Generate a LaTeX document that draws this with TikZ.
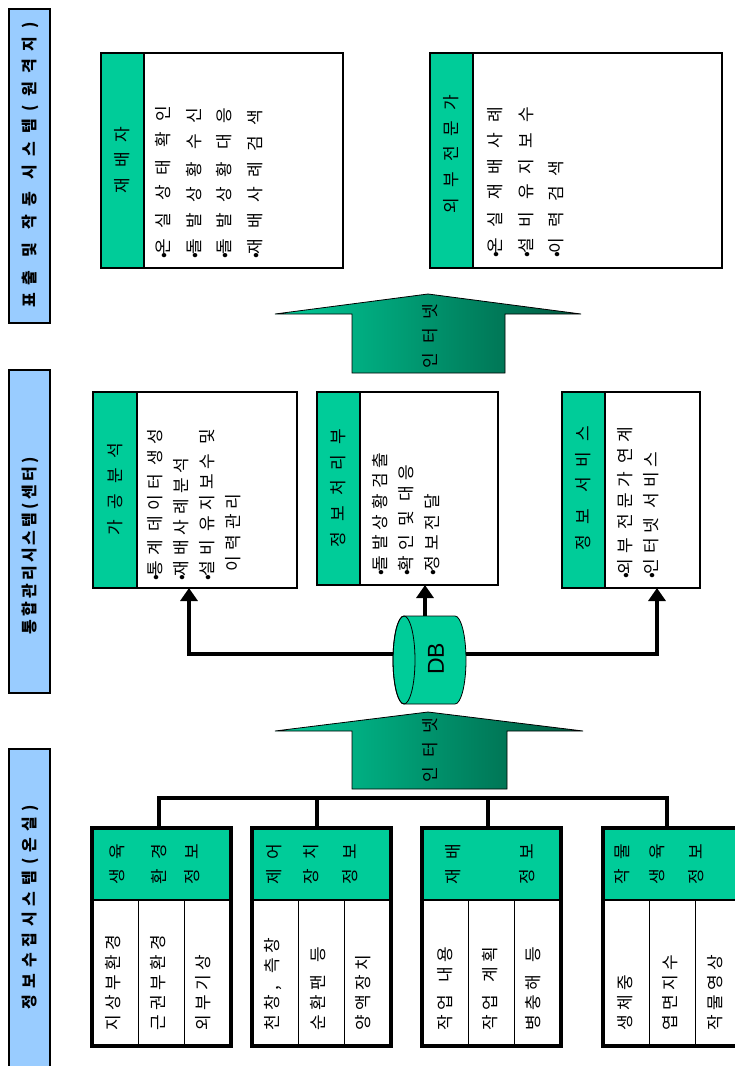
\documentclass[tikz,border=0pt]{standalone}
\usepackage{fontspec}
\setmainfont{Noto Sans CJK KR}
\newfontfamily\dbfont{Liberation Sans}
\usetikzlibrary{arrows.meta}

\definecolor{hdrgreen}{HTML}{00CC99}
\definecolor{barblue}{HTML}{99CCFF}
\definecolor{deepgreen}{HTML}{005A40}

% size, baselineskip, letter spacing (percent), word space
\newcommand\kfont[4]{\fontsize{#1}{#2}\selectfont\addfontfeatures{LetterSpace=#3}\spaceskip=#4\relax}
\newcommand\bul{•\kern-2pt\relax}

\tikzset{
  every node/.style={inner sep=0pt, outer sep=0pt},
  vtext/.style={rotate=90},
  bar/.style={draw=black, line width=1.3pt, fill=barblue, anchor=north west, minimum width=41pt},
  hdr/.style={vtext, font=\kfont{17}{18}{59}{16pt}},
  itemA/.style={vtext, anchor=north west, align=left, font=\kfont{17}{30.5}{59}{12pt}},
  itemC/.style={vtext, anchor=north west, align=left, font=\kfont{17}{26}{29}{9pt}},
  body/.style={vtext, anchor=west, font=\kfont{17}{18}{25}{12pt}},
  bhdr/.style={vtext, font=\kfont{17}{18}{53}{10pt}},
  nettext/.style={vtext, font=\kfont{17}{18}{53}{10pt}},
  wire/.style={line width=4pt},
  conn/.style={line width=4pt, -{Triangle[length=13pt,width=17pt]}},
  bigarrow/.style={draw=black, line width=0.8pt, left color=hdrgreen, right color=deepgreen},
}

\begin{document}
\begin{tikzpicture}[x=1pt,y=-1pt]
\useasboundingbox (0,0) rectangle (735,1066);
\clip (0,0) rectangle (735,1066);
\fill[white] (0,0) rectangle (735,1066);

% ---- layer labels ----
\node[bar, minimum height=314pt] (bar1) at (9,9) {};
\node[bar, minimum height=323pt] (bar2) at (9,370) {};
\node[bar, minimum height=320pt] (bar3) at (9,749) {};
\node[vtext, font={\bfseries\kfont{16}{18}{50}{13pt}}] (lab1) at (30,165) {표출 및 작동 시스템(원격지)};
\node[vtext, font={\bfseries\kfont{16}{18}{20}{8pt}}] (lab2) at (30,546) {통합관리시스템(센터)};
\node[vtext, font={\bfseries\kfont{16}{18}{37}{10pt}}] (lab3) at (30,907) {정보수집시스템(온실)};

% ---- panels with a green title strip ----
\foreach \x/\y/\w/\h/\hw in {101/53/242/215/43, 430/53/292/215/43, 93/392/204/196/44, 317/392/181/193/43, 562/392/138/196/43}{
  \fill[white] (\x,\y) rectangle ++(\w,\h);
  \fill[hdrgreen] (\x,\y) rectangle ++(\hw,\h);
  \draw[line width=2pt] (\x+\hw,\y) -- ++(0,\h);
  \draw[line width=1.3pt] (\x,\y) rectangle ++(\w,\h);
}

\node[hdr] (hA) at (122.5,160) {재배자};
\node[hdr] (hB) at (451.5,154) {외부전문가};
\node[hdr] (hC) at (115,489) {가공분석};
\node[hdr] (hD) at (338.5,488) {정보처리부};
\node[hdr] (hE) at (583.5,488) {정보 서비스};

\node[itemA] (iA) at (155.5,258) {\bul 온실 상태 확인\\\bul 돌발상황 수신\\\bul 돌발상황 대응\\\bul 재배사례검색};
\node[itemA] (iB) at (487.5,257) {\bul 온실 재배사례\\\bul 설비 유지보수\\\bul 이력검색};
\node[itemC] (iC) at (147.5,580) {\bul 통계 데이터 생성\\\bul 재배사례분석\\\bul 설비 유지보수 및\\\hspace{9pt}이력관리};
\node[itemC] (iD) at (372.5,575) {\bul 돌발상황검출\\\bul 확인 및 대응\\\bul 정보전달};
\node[itemC] (iE) at (617.5,578) {\bul 외부 전문가 연계\\\bul 인터넷 서비스};

% ---- internet arrows ----
\path[bigarrow] (275,314) -- (428,294) -- (581,314) -- (505,314) -- (505,373) -- (352,373) -- (352,314) -- cycle;
\node[nettext] (net1) at (430,336) {인터넷};
\path[bigarrow] (275,731) -- (428,712) -- (583,731) -- (507,731) -- (507,789) -- (352,789) -- (352,731) -- cycle;
\node[nettext] (net2) at (430,750) {인터넷};

% ---- database and its links ----
\coordinate (tC) at (189,588);
\coordinate (tD) at (425,585);
\coordinate (tE) at (657,588);
\coordinate (jL) at (189,654);
\coordinate (jR) at (657,654);
\node[minimum width=73pt, minimum height=88pt] (db) at (429.5,660) {};
\draw[wire, {Triangle[length=13pt,width=17pt]}-{Triangle[length=13pt,width=17pt]}] (tC) -- (jL) -- (jR) -- (tE);
\draw[conn] (db.north -| tD) -- (tD);
\path[fill=hdrgreen, draw=black, line width=0.8pt] (404,616) -- (455,616)
  arc[start angle=-90, end angle=90, x radius=11, y radius=44] -- (404,704)
  arc[start angle=90, end angle=270, x radius=11, y radius=44] -- cycle;
\draw[line width=0.8pt] (404,660) ellipse [x radius=11, y radius=44];
\node[vtext, font=\dbfont\fontsize{23}{23}\selectfont] (dbl) at (436,659) {DB};

% ---- field units ----
\foreach \x in {92,252,422,603}{
  \fill[white] (\x,828) rectangle ++(139,218);
  \fill[hdrgreen] (\x,828) rectangle ++(139,72);
  \draw[line width=1.2pt] (\x,900) -- ++(139,0);
  \draw[line width=1.2pt] (\x+46.33,900) -- ++(0,146);
  \draw[line width=1.2pt] (\x+92.67,900) -- ++(0,146);
  \draw[line width=4pt] (\x,828) rectangle ++(139,218);
}
\coordinate (t1) at (159,828);
\coordinate (t2) at (317,828);
\coordinate (t3) at (488,828);
\coordinate (t4) at (667,828);
\coordinate (j1) at (159,798);
\coordinate (j2) at (317,798);
\coordinate (j3) at (488,798);
\coordinate (j4) at (667,798);
\draw[wire] (t1) -- (j1) -- (j4) -- (t4);
\draw[wire] (j2) -- (t2);
\draw[wire] (j3) -- (t3);

\node[bhdr] (u1a) at (117,864) {생육};
\node[bhdr] (u1b) at (159,864) {환경};
\node[bhdr] (u1c) at (192,864) {정보};
\node[body] (u1x) at (113,1030) {지상부환경};
\node[body] (u1y) at (158,1030) {근권부환경};
\node[body] (u1z) at (203,1030) {외부기상};

\node[bhdr] (u2a) at (274,864) {제어};
\node[bhdr] (u2b) at (311,864) {장치};
\node[bhdr] (u2c) at (350,864) {정보};
\node[body] (u2x) at (273,1030) {천창, 측창};
\node[body] (u2y) at (318,1030) {순환팬 등};
\node[body] (u2z) at (363,1030) {양액장치};

\node[bhdr] (u3a) at (453,864) {재배};
\node[bhdr] (u3c) at (527,864) {정보};
\node[body] (u3x) at (445,1030) {작업 내용};
\node[body] (u3y) at (490,1030) {작업 계획};
\node[body] (u3z) at (533,1030) {병충해 등};

\node[bhdr] (u4a) at (622,864) {작물};
\node[bhdr] (u4b) at (657,864) {생육};
\node[bhdr] (u4c) at (696,864) {정보};
\node[body] (u4x) at (625,1030) {생체중};
\node[body] (u4y) at (670,1030) {엽면지수};
\node[body] (u4z) at (715,1030) {작물영상};
\end{tikzpicture}
\end{document}
